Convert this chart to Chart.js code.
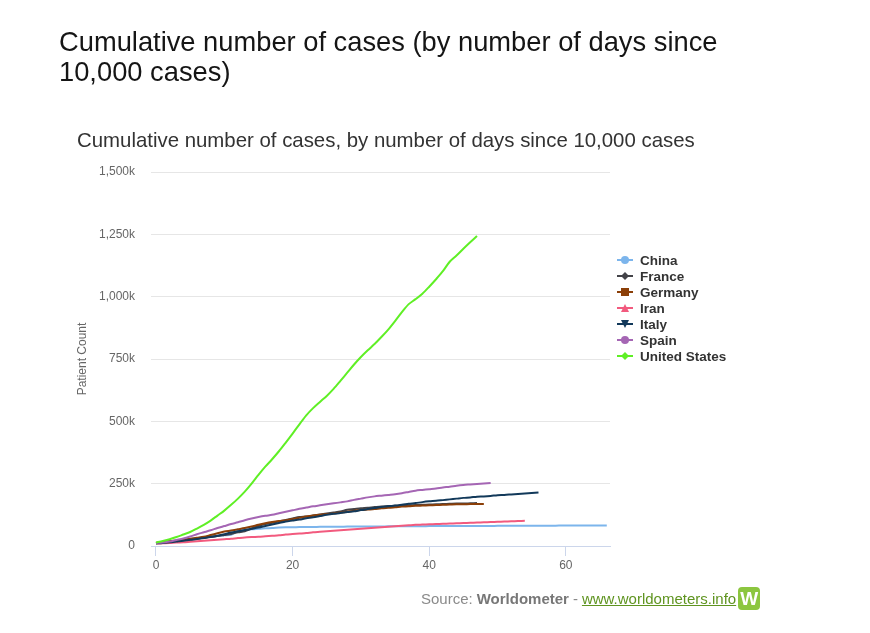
<!DOCTYPE html>
<html lang="en">
<head>
<meta charset="UTF-8">
<title>Cumulative number of cases</title>
<script src="https://cdn.jsdelivr.net/npm/chart.js"></script>
<style>
    body {
        margin: 0;
        background: #fff;
        font-family: "Liberation Sans", Arial, sans-serif;
    }
    .page {
        position: relative;
        width: 870px;
        height: 633px;
        overflow: hidden;
    }
    #chart {
        position: absolute;
        left: 0;
        top: 0;
    }
    .main-title {
        position: absolute;
        left: 59px;
        top: 27px;
        font-size: 27.3px;
        line-height: 30px;
        color: #151515;
        white-space: nowrap;
    }
    .sub-title {
        position: absolute;
        left: 77px;
        top: 128px;
        font-size: 20.4px;
        line-height: 24px;
        color: #333;
        white-space: nowrap;
    }
    .legend {
        position: absolute;
        left: 616px;
        top: 252px;
    }
    .legend div {
        height: 16px;
        display: flex;
        align-items: center;
        font-size: 13.5px;
        font-weight: bold;
        color: #333;
    }
    .legend svg { margin-right: 6px; }
    .source {
        position: absolute;
        left: 421px;
        top: 587px;
        font-size: 15px;
        color: #8a8a8a;
        display: flex;
        align-items: center;
        white-space: nowrap;
    }
    .source b { color: #777; margin: 0 4px; }
    .source a { color: #5f9420; margin-left: 4px; }
    .logo {
        display: inline-block;
        width: 22px;
        height: 23px;
        margin-left: 2px;
        background: #8cc63f;
        border-radius: 4px;
        color: #fff;
        font-weight: bold;
        font-size: 19px;
        line-height: 23px;
        text-align: center;
    }
</style>
</head>
<body>
<div class="page">
    <canvas id="chart" width="870" height="633"></canvas>
    <div class="main-title">Cumulative number of cases (by number of days since<br>10,000 cases)</div>
    <div class="sub-title">Cumulative number of cases, by number of days since 10,000 cases</div>
    <div class="legend" id="legend"></div>
    <div class="source">Source: <b>Worldometer</b> - <a href="#">www.worldometers.info</a><span class="logo">W</span></div>
</div>
<script>
// cases in thousands, one value per day since the 10,000th case
const countries = ["China", "France", "Germany", "Iran", "Italy", "Spain", "United States"];
const colors = ["#7cb5ec", "#434348", "#8b3f08", "#f25a7e", "#12395a", "#a566b4", "#5fef25"];
const markers = ["circle", "diamond", "square", "triangle", "triangleDown", "circle", "diamond"];

const china = [12,14,17,20,25,28,31,35,38,40, 43,45,60,64,67,69,71,72,74,75,
    75,76,76,76,77,77,77,77,78,78, 78,78,78,78,79,79,79,79,79,79,
    80,80,80,80,80,80,80,80,80,80, 81,81,81,81,81,81,81,81,81,82, 82,82,82,82,82,82,82];
const france = [12,14,16,20,22,25,29,33,37,40, 44,48,55,59,70,80,88,93,98,104,
    110,116,118,122,126,130,134,138,145,148, 151,153,156,158,160,161,162,163,164,165,
    166,167,168,169,170,170,171,172];
const germany = [12,15,20,22,25,29,33,37,44,51, 58,62,67,72,78,85,91,96,100,103,
    108,113,118,122,125,128,130,134,137,141, 144,146,148,151,153,155,158,159,161,162,
    163,164,165,166,167,167,168,168,168];
const iran = [10,11,12,14,15,17,19,21,23,25, 27,29,32,34,36,37,39,41,43,46,
    48,50,52,55,57,59,61,63,65,67, 69,71,73,75,77,79,81,83,85,86,
    87,88,89,90,91,92,93,94,95,96, 97,98,99,100,101];
const italy = [10,12,15,18,21,25,28,32,36,41, 47,54,59,64,69,74,80,86,92,98,
    102,106,111,115,120,125,129,132,136,139, 144,148,152,156,159,162,165,169,172,176,
    179,181,184,187,190,193,195,198,199,201, 204,205,207,209,211,213,215];
const spain = [12,14,18,24,30,38,47,55,63,72, 80,88,95,103,110,116,121,125,131,137,
    143,149,154,159,163,167,171,175,179,185, 190,195,199,202,205,208,212,217,222,225,
    228,231,235,238,242,245,247,249,251,253];
const unitedStates = [14,20,27,36,46,56,70,85,102,122, 142,165,190,218,250,285,318,348,380,415,
    451,488,524,553,578,602,630,662,695,728, 758,785,810,838,868,902,938,970,990,1012,
    1040,1070,1102,1140,1165,1192,1218,1243];

const series = [china, france, germany, iran, italy, spain, unitedStates];
const xTicks = [0, 20, 40, 60];
const yTicks = [0, 250, 500, 750, 1000, 1250, 1500];

const fontFamily = '"Liberation Sans", Arial, sans-serif';

const datasets = series.map((values, i) => ({
    label: countries[i],
    data: values.map((v, day) => ({ x: day, y: v })),
    borderColor: colors[i],
    backgroundColor: colors[i],
    borderWidth: 2,
    pointRadius: 0,
    tension: 0.3,
    order: series.length - i   // later series drawn on top
}));

new Chart(document.getElementById('chart'), {
    type: 'line',
    data: { datasets: datasets },
    options: {
        responsive: false,
        animation: false,
        layout: { padding: { left: 71, right: 260, top: 172, bottom: 62 } },
        plugins: {
            legend: { display: false },
            tooltip: { enabled: false }
        },
        scales: {
            x: {
                type: 'linear',
                min: -0.73,
                max: 66.47,
                afterBuildTicks: scale => { scale.ticks = xTicks.map(v => ({ value: v })); },
                afterFit: scale => { scale.height = 25; },
                grid: {
                    drawOnChartArea: false,
                    drawTicks: true,
                    tickLength: 10,
                    color: '#ccd6eb'
                },
                border: { color: '#ccd6eb', width: 1 },
                ticks: {
                    padding: 2,
                    color: '#666',
                    font: { family: fontFamily, size: 12 }
                }
            },
            y: {
                min: 0,
                max: 1500,
                afterBuildTicks: scale => { scale.ticks = yTicks.map(v => ({ value: v })); },
                afterFit: scale => { scale.width = 80; },
                grid: { color: '#e6e6e6', drawTicks: false },
                border: { display: false },
                ticks: {
                    padding: 16,
                    color: '#666',
                    font: { family: fontFamily, size: 12 },
                    callback: v => v === 0 ? '0' : v.toLocaleString('en-US') + 'k'
                },
                title: {
                    display: true,
                    text: 'Patient Count',
                    color: '#666',
                    font: { family: fontFamily, size: 12 },
                    padding: { top: 4, bottom: 4 }
                }
            }
        }
    }
});

// legend: line with marker, like the original
function markerSvg(shape, color) {
    let m = '';
    if (shape === 'circle') m = `<circle cx="9" cy="6" r="4" fill="${color}"/>`;
    if (shape === 'diamond') m = `<polygon points="9,2 13,6 9,10 5,6" fill="${color}"/>`;
    if (shape === 'square') m = `<rect x="5" y="2" width="8" height="8" fill="${color}"/>`;
    if (shape === 'triangle') m = `<polygon points="9,2 13,10 5,10" fill="${color}"/>`;
    if (shape === 'triangleDown') m = `<polygon points="5,2 13,2 9,10" fill="${color}"/>`;
    return `<svg width="18" height="12"><line x1="1" y1="6" x2="17" y2="6" stroke="${color}" stroke-width="2"/>${m}</svg>`;
}
const legend = document.getElementById('legend');
countries.forEach((name, i) => {
    const row = document.createElement('div');
    row.innerHTML = markerSvg(markers[i], colors[i]) + name;
    legend.appendChild(row);
});
</script>
</body>
</html>
